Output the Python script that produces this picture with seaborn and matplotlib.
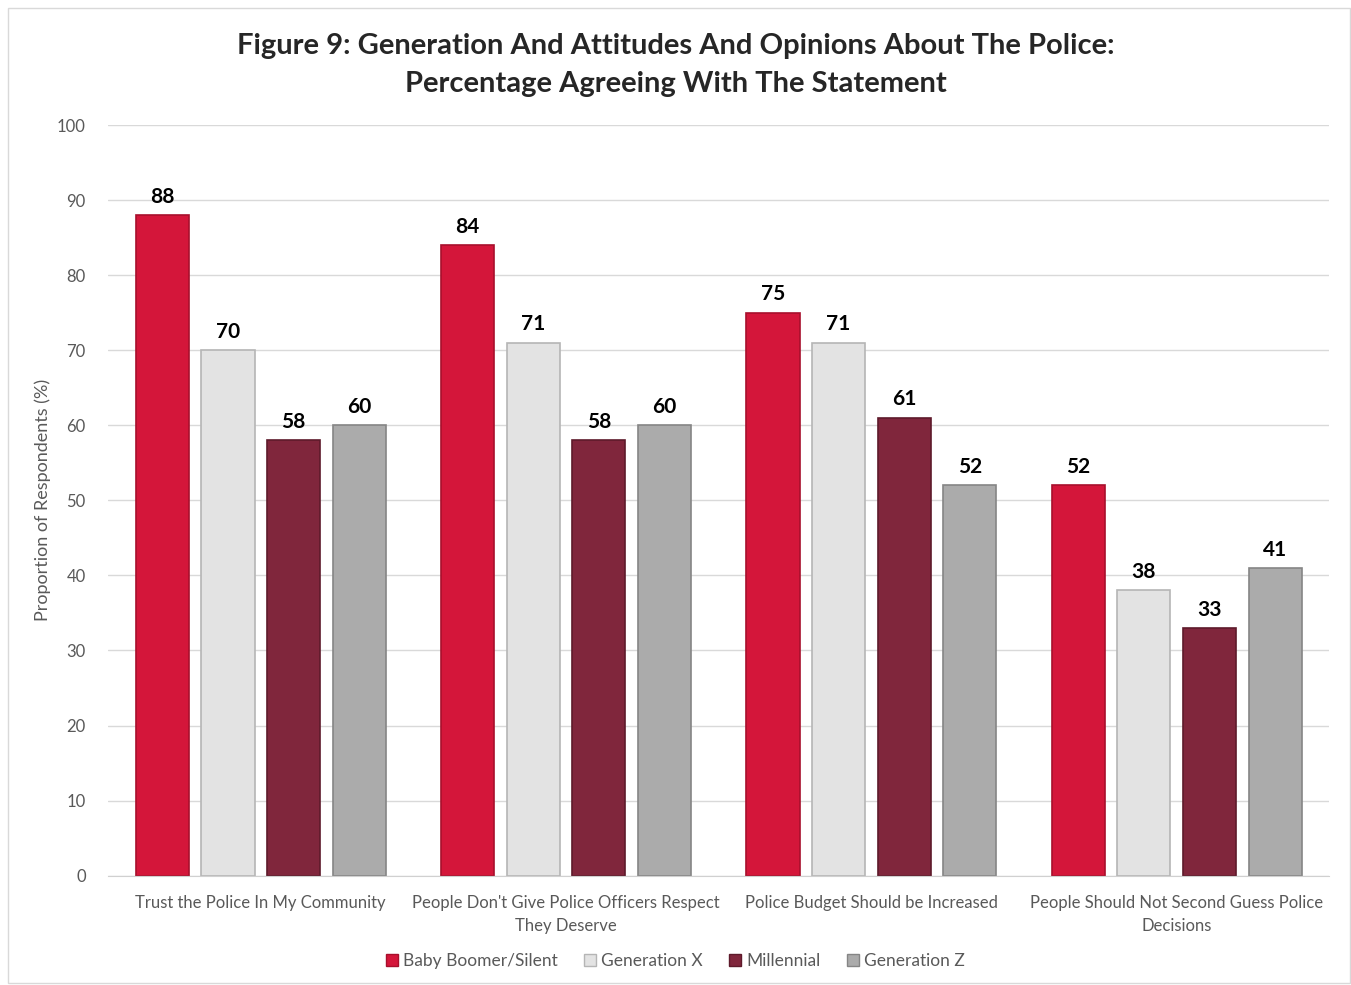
import pandas as pd
import matplotlib.pyplot as plt
import seaborn as sns
from matplotlib.patches import Rectangle

# Chart data
statements = ["Trust the Police In My Community",
              "People Don't Give Police Officers Respect\nThey Deserve",
              "Police Budget Should be Increased",
              "People Should Not Second Guess Police\nDecisions"]
generations = ["Baby Boomer/Silent", "Generation X", "Millennial", "Generation Z"]
boomer = [88, 84, 75, 52]
gen_x = [70, 71, 71, 38]
millennial = [58, 58, 61, 33]
gen_z = [60, 60, 52, 41]

colors = ["#d4163a", "#e3e3e3", "#80263c", "#ababab"]
edges = ["#a80f2c", "#b5b5b5", "#5e1a2b", "#858585"]

rows = []
for gen, vals in zip(generations, [boomer, gen_x, millennial, gen_z]):
    for stmt, v in zip(statements, vals):
        rows.append({"statement": stmt, "generation": gen, "value": v})
df = pd.DataFrame(rows)

sns.set_style("white")
plt.rcParams['font.family'] = ['Lato', 'DejaVu Sans']

fig = plt.figure(figsize=(13.51, 9.85), dpi=100)
ax = fig.add_axes([0.080, 0.111, 0.904, 0.762])

sns.barplot(data=df, x="statement", y="value", hue="generation",
            order=statements, hue_order=generations, palette=colors,
            saturation=1, width=0.86, gap=0.19, ax=ax, legend=False)

# edges and value labels
for i, cont in enumerate(ax.containers):
    for bar in cont:
        bar.set_edgecolor(edges[i])
        bar.set_linewidth(1.2)
    ax.bar_label(cont, fmt="%d", padding=6, fontsize=15, fontweight="bold", color="black")

ax.set_ylim(0, 100)
ax.set_yticks(range(0, 101, 10))
ax.set_xlim(-0.5, 3.5)
ax.yaxis.grid(True, color="#d9d9d9", linewidth=1)
ax.set_axisbelow(True)
for s in ["top", "right", "left"]:
    ax.spines[s].set_visible(False)
ax.spines["bottom"].set_color("#d0d0d0")
ax.tick_params(axis="both", length=0, labelsize=12, labelcolor="#595959", pad=14)
ax.tick_params(axis="y", pad=16)
for t in ax.get_xticklabels():
    t.set_linespacing(1.5)
ax.set_xlabel("")
ax.set_ylabel("Proportion of Respondents (%)", fontsize=13, color="#595959", labelpad=4)

fig.suptitle("Figure 9: Generation And Attitudes And Opinions About The Police:\n"
             "Percentage Agreeing With The Statement",
             y=0.967, fontsize=21, fontweight="bold", linespacing=1.6)

handles = [Rectangle((0, 0), 1, 1, facecolor=c, edgecolor=e) for c, e in zip(colors, edges)]
fig.legend(handles, generations, loc="center", bbox_to_anchor=(0.5, 0.024), ncol=4,
           frameon=False, fontsize=12.5, handlelength=0.7, handleheight=0.7,
           handletextpad=0.3, columnspacing=1.5, labelcolor="#595959")

fig.patches.append(Rectangle((0.006, 0.002), 0.993, 0.99, transform=fig.transFigure,
                             fill=False, edgecolor="#d9d9d9", linewidth=1))

fig.savefig("out.png", dpi=100)
